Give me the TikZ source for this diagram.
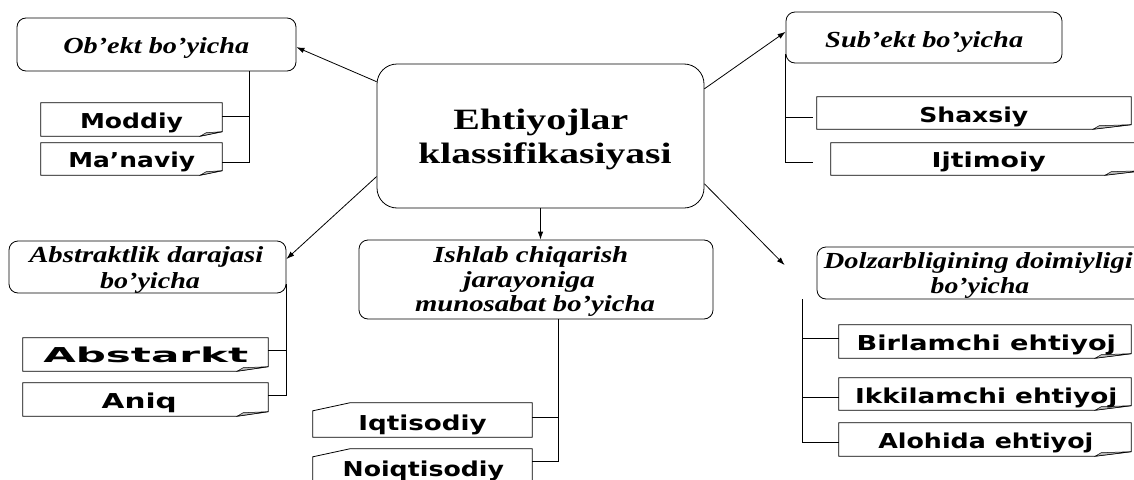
\documentclass[tikz,border=0pt]{standalone}
\usepackage{fontspec}
\usepackage{graphicx}
\setmainfont{Liberation Serif}
\newfontfamily\vsans{DejaVu Sans}
\usetikzlibrary{arrows.meta,calc}

\newsavebox\fitbox
\newlength\fitlen
\newcommand\fitw[2]{\sbox\fitbox{#2}\setlength\fitlen{\wd\fitbox}\pgfmathsetmacro\fitsx{#1/\fitlen}\scalebox{\fitsx}[1]{\usebox\fitbox}}

\tikzset{
  wh/.style 2 args={minimum width=#1pt, minimum height=#2pt},
  rbox/.style={draw, line width=0.8pt, rounded corners=9pt, inner sep=0pt},
  nbox/.style={inner sep=0pt, rectangle},
  nline/.style={draw, line width=0.8pt},
  fold/.style={fill=gray!55, draw, line width=0.5pt},
  ln/.style={line width=0.8pt},
  arr/.style={line width=0.8pt, -{Latex[length=8pt,width=5.5pt]}},
  itx/.style={inner sep=0pt, anchor=base, font=\fontsize{23}{25}\selectfont\bfseries\itshape},
  sbx/.style={inner sep=0pt, anchor=base, font=\fontsize{20.5}{22}\selectfont\vsans\bfseries},
  cbx/.style={inner sep=0pt, anchor=base, font=\fontsize{29.5}{31}\selectfont\bfseries}
}

\newcommand\notebr[2]{%
  \draw[nline] (#1.north west) -- (#1.north east) -- ([yshift=4.5pt]#1.south east) -- ([xshift=-#2pt]#1.south east) -- (#1.south west) -- cycle;
  \filldraw[fold] ([xshift=-#2pt]#1.south east) -- ([xshift=-#2pt+6pt,yshift=3.5pt]#1.south east) -- ([yshift=4.5pt]#1.south east) -- cycle;}
\newcommand\notetl[2]{%
  \draw[nline] ([xshift=#2pt]#1.north west) -- (#1.north east) -- (#1.south east) -- (#1.south west) -- ([yshift=-8pt]#1.north west) -- cycle;}

\begin{document}
\begin{tikzpicture}[x=1pt,y=-1pt]
\useasboundingbox (0,0) rectangle (1134,479);
\clip (0,0) rectangle (1134,479);

% rounded boxes
\node[rbox, rounded corners=20pt, wh={327}{144}] (c) at (540.5,136) {};
\node[rbox, wh={279}{53}] (ob) at (156.5,44.5) {};
\node[rbox, wh={276}{51}] (sub) at (924,37.5) {};
\node[rbox, wh={277}{52}] (abs) at (147.5,267) {};
\node[rbox, wh={354}{79}] (ish) at (536,279.5) {};
\node[rbox, wh={333}{52}] (dol) at (983.5,273) {};

% note boxes
\node[nbox, wh={181}{33}] (mod) at (131.5,119.5) {};
\node[nbox, wh={181}{32}] (man) at (131.5,159) {};
\node[nbox, wh={314}{32}] (sha) at (974,113) {};
\node[nbox, wh={312}{32}] (ijt) at (987,159) {};
\node[nbox, wh={245}{33}] (abst) at (145.5,354.5) {};
\node[nbox, wh={245}{33}] (aniq) at (145.5,399.5) {};
\node[nbox, wh={292}{33}] (bir) at (985,341.5) {};
\node[nbox, wh={292}{32}] (ikk) at (985,394) {};
\node[nbox, wh={292}{33}] (alo) at (985,439.5) {};
\node[nbox, wh={219}{34}] (iqt) at (422.5,420) {};
\node[nbox, wh={219}{34}] (noi) at (422.5,466) {};

\notebr{mod}{22}
\notebr{man}{22}
\notebr{sha}{38}
\notebr{ijt}{38}
\notebr{abst}{31}
\notebr{aniq}{31}
\notebr{bir}{36}
\notebr{ikk}{36}
\notebr{alo}{36}
\notetl{iqt}{37}
\notetl{noi}{37}

% texts
\node[cbx] (c-t1) at (540.8,129) {\fitw{175}{Ehtiyojlar}};
\node[cbx] (c-t2) at (545,163) {\fitw{253.3}{klassifikasiyasi}};
\node[itx] (ob-t) at (156.3,53) {\fitw{186}{Ob’ekt bo’yicha}};
\node[itx] (sub-t) at (924.2,47) {\fitw{198}{Sub’ekt bo’yicha}};
\node[itx] (abs-t1) at (146.3,262.5) {\fitw{234}{Abstraktlik darajasi}};
\node[itx] (abs-t2) at (150,288) {\fitw{100}{bo’yicha}};
\node[itx] (ish-t1) at (530.8,262.5) {\fitw{195}{Ishlab chiqarish}};
\node[itx] (ish-t2) at (529.2,287) {\fitw{131.7}{jarayoniga}};
\node[itx] (ish-t3) at (535,311) {\fitw{240}{munosabat bo’yicha}};
\node[itx] (dol-t1) at (978.3,268) {\fitw{308.7}{Dolzarbligining doimiyligi}};
\node[itx] (dol-t2) at (980,293) {\fitw{98.7}{bo’yicha}};
\node[sbx] (mod-t) at (131.5,128) {\fitw{103}{Moddiy}};
\node[sbx] (man-t) at (131.7,167) {\fitw{126.7}{Ma’naviy}};
\node[sbx] (sha-t) at (973.8,122) {\fitw{109}{Shaxsiy}};
\node[sbx] (ijt-t) at (988.7,167) {\fitw{114}{Ijtimoiy}};
\node[sbx] (abst-t) at (145.8,362) {\fitw{205}{Abstarkt}};
\node[sbx] (aniq-t) at (139.2,408) {\fitw{75}{Aniq}};
\node[sbx] (iqt-t) at (422.5,430) {\fitw{128.3}{Iqtisodiy}};
\node[sbx] (noi-t) at (423.3,476.5) {\fitw{161.3}{Noiqtisodiy}};
\node[sbx] (bir-t) at (986.3,350) {\fitw{259.3}{Birlamchi ehtiyoj}};
\node[sbx] (ikk-t) at (986.2,403) {\fitw{262.3}{Ikkilamchi ehtiyoj}};
\node[sbx] (alo-t) at (985.8,448) {\fitw{215}{Alohida ehtiyoj}};

% Ob tree
\coordinate (obT) at ($(ob.south west)!0.8315!(ob.south east)$);
\coordinate (modE) at ($(mod.north east)!0.42!(mod.south east)$);
\coordinate (manE) at ($(man.north east)!0.6!(man.south east)$);
\draw[ln] (obT) |- (manE);
\draw[ln] (modE) -- (modE -| obT);

% Sub tree
\coordinate (subT) at ([yshift=9pt]sub.south west);
\coordinate (shaB) at ($(sha.north west)!0.625!(sha.south west)+(-4,0)$);
\coordinate (ijtB) at ($(ijt.north west)!0.594!(ijt.south west)+(-18,0)$);
\draw[ln] (subT) |- (ijtB);
\draw[ln] (subT |- shaB) -- (shaB);

% Abs tree
\coordinate (absT) at ([yshift=9pt]abs.south east);
\coordinate (abstE) at ($(abst.north east)!0.39!(abst.south east)$);
\coordinate (aniqE) at ($(aniq.north east)!0.39!(aniq.south east)$);
\draw[ln] (absT) |- (aniqE);
\draw[ln] (abstE) -- (abstE -| absT);

% Ish tree
\coordinate (ishT) at ($(ish.south west)!0.562!(ish.south east)$);
\coordinate (iqtE) at ($(iqt.north east)!0.41!(iqt.south east)$);
\coordinate (noiE) at ($(noi.north east)!0.38!(noi.south east)$);
\draw[ln] (ishT) |- (noiE);
\draw[ln] (iqtE) -- (iqtE -| ishT);

% Dol tree
\coordinate (dolT) at ([xshift=-14pt]dol.south west);
\coordinate (birW) at ($(bir.north west)!0.42!(bir.south west)$);
\coordinate (ikkW) at ($(ikk.north west)!0.59!(ikk.south west)$);
\coordinate (aloW) at ($(alo.north west)!0.6!(alo.south west)$);
\draw[ln] (dolT) |- (aloW);
\draw[ln] (dolT |- birW) -- (birW);
\draw[ln] (dolT |- ikkW) -- (ikkW);

% arrows from centre
\draw[arr] ($(c.north west)!0.125!(c.south west)$) -- ($(ob.north east)!0.55!(ob.south east)$);
\draw[arr] ($(c.north east)!0.174!(c.south east)$) -- ($(sub.north west)!0.39!(sub.south west)$);
\draw[arr] ($(c.north west)!0.78!(c.south west)$) -- ($(abs.north east)!0.35!(abs.south east)$);
\coordinate (dolTip) at ($(dol.north west)!0.35!(dol.south west)+(-32,0)$);
\draw[arr] ($(c.north east)!0.83!(c.south east)$) -- (dolTip);
\draw[arr] (c.south) -- (c.south |- ish.north);
\end{tikzpicture}
\end{document}
